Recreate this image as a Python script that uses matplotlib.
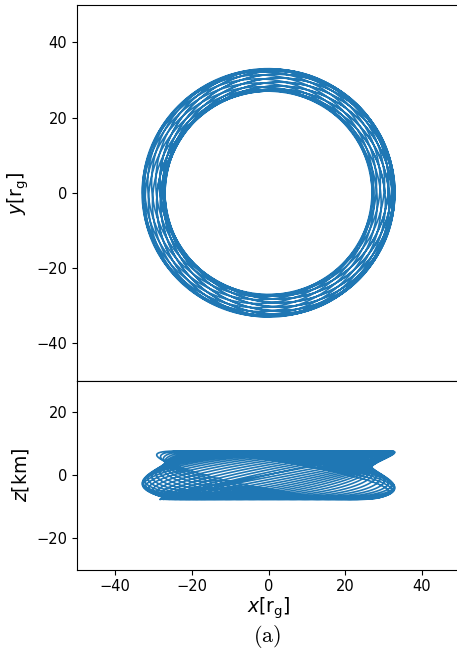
import numpy as np
import matplotlib
matplotlib.use("Agg")
import matplotlib.pyplot as plt

# ---- values ----
radius_range_rg = [27.0, 33.0]     # inner / outer orbital radius
z_amplitude_km = [7.7]             # vertical excursion
n_orbits = [24.4]                  # number of revolutions shown
freq_ratios = [0.9412, 0.9832]     # radial / orbital, vertical / orbital
start_phases = [4.58, 4.1]         # radial, vertical

x_ticks = [-40, -20, 0, 20, 40]
y_ticks = [-40, -20, 0, 20, 40]
z_ticks = [-20, 0, 20]
x_limits = [-50, 50]
y_limits = [-50, 50]
z_limits = [-30, 30]

# ---- trajectory ----
t = np.linspace(0, 2 * np.pi * n_orbits[0], 40000)
r_mean = 0.5 * (radius_range_rg[0] + radius_range_rg[1])
r_amp = 0.5 * (radius_range_rg[1] - radius_range_rg[0])
r = r_mean - r_amp * np.cos(freq_ratios[0] * t + start_phases[0])
x = r * np.cos(t)
y = r * np.sin(t)
z = z_amplitude_km[0] * np.sin(freq_ratios[1] * t + start_phases[1])

W, H = 457, 657
fig = plt.figure(figsize=(W / 100, H / 100), dpi=100)

left = 77 / W
width = (460 - 77) / W
ax1 = fig.add_axes([left, (H - 381) / H, width, (381 - 4.7) / H])
ax2 = fig.add_axes([left, (H - 569.5) / H, width, (569.5 - 381) / H], sharex=ax1)

ax1.plot(x, y, color="#1f77b4", lw=1.2)
ax2.plot(x, z, color="#1f77b4", lw=1.2)

ax1.set_xlim(x_limits)
ax1.set_ylim(y_limits)
ax2.set_ylim(z_limits)
ax1.set_yticks(y_ticks)
ax2.set_yticks(z_ticks)
ax2.set_xticks(x_ticks)
ax1.tick_params(axis="x", bottom=False, labelbottom=False)

for ax in (ax1, ax2):
    ax.tick_params(labelsize=10.5)

ax1.set_ylabel(r"$y[\mathrm{r_g}]$", fontsize=13.5)
ax2.set_ylabel(r"$z[\mathrm{km}]$", fontsize=13.5)
ax2.set_xlabel(r"$x[\mathrm{r_g}]$", fontsize=13.5, labelpad=1)

fig.text(267 / W, 1 - 636 / H, r"$\mathrm{(a)}$", fontsize=16,
         math_fontfamily="cm", ha="center", va="center")

fig.savefig("out.png", dpi=100)
